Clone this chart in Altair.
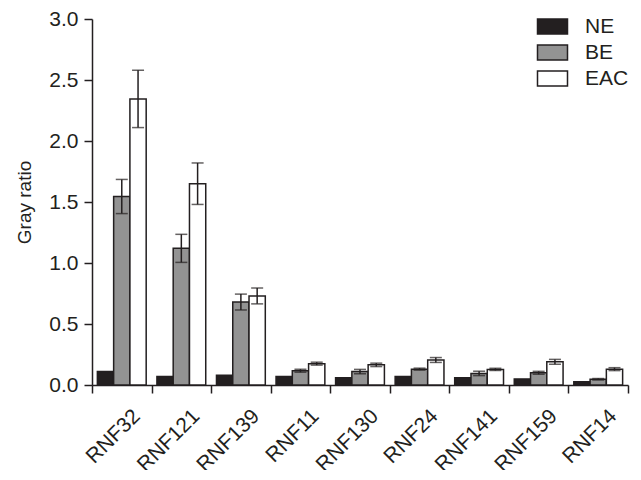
import altair as alt
import pandas as pd

genes = ["RNF32", "RNF121", "RNF139", "RNF11", "RNF130", "RNF24", "RNF141", "RNF159", "RNF14"]
groups = ["NE", "BE", "EAC"]
ne_vals = [0.11, 0.07, 0.08, 0.07, 0.06, 0.07, 0.06, 0.05, 0.027]
be_vals = [1.545, 1.12, 0.68, 0.117, 0.11, 0.13, 0.095, 0.10, 0.047]
eac_vals = [2.345, 1.65, 0.73, 0.175, 0.165, 0.205, 0.128, 0.19, 0.13]
ne_err = [0.0, 0.0, 0.0, 0.0, 0.0, 0.0, 0.0, 0.0, 0.0]
be_err = [0.14, 0.115, 0.065, 0.012, 0.018, 0.008, 0.018, 0.012, 0.006]
eac_err = [0.235, 0.17, 0.065, 0.012, 0.014, 0.02, 0.009, 0.02, 0.012]

rows = []
for g, vals, errs in [("NE", ne_vals, ne_err), ("BE", be_vals, be_err), ("EAC", eac_vals, eac_err)]:
    for gene, v, e in zip(genes, vals, errs):
        rows.append({"gene": gene, "group": g, "value": v, "lo": v - e, "hi": v + e, "err": e})
df = pd.DataFrame(rows)

FONT = "Liberation Sans"
INK = "#231f20"

x_enc = alt.X("gene:N", sort=genes, title=None,
              scale=alt.Scale(paddingInner=0, paddingOuter=0),
              axis=alt.Axis(labelAngle=-45, labelFontSize=21, labelFont=FONT, labelColor=INK,
                            tickBand="extent", tickSize=8, tickWidth=1.5, tickColor=INK,
                            domainColor=INK, domainWidth=1.5, labelPadding=12, labelOffset=7,
                            labelAlign="right", labelBaseline="top", labelOverlap=False,
                            labelBound=False))
xo_enc = alt.XOffset("group:N", sort=groups,
                     scale=alt.Scale(paddingInner=0, paddingOuter=0.33))

bars = alt.Chart(df).mark_bar(stroke=INK, strokeWidth=1.5).encode(
    x=x_enc,
    xOffset=xo_enc,
    y=alt.Y("value:Q", title="Gray ratio",
            scale=alt.Scale(domain=[0, 3]),
            axis=alt.Axis(values=[0, 0.5, 1.0, 1.5, 2.0, 2.5, 3.0], format=".1f",
                          labelFontSize=21, labelFont=FONT, labelColor=INK,
                          titleFontSize=19, titleFont=FONT, titleFontWeight="normal", titleColor=INK,
                          tickSize=8, tickWidth=1.5, tickColor=INK, domainColor=INK, domainWidth=1.5,
                          labelPadding=6, titlePadding=14, grid=False)),
    fill=alt.Fill("group:N", sort=groups,
                  scale=alt.Scale(domain=groups, range=[INK, "#939393", "#ffffff"]),
                  legend=alt.Legend(title=None, orient="none", legendX=450, legendY=-3,
                                    symbolType="M-2,-1H2V1H-2Z", symbolSize=225,
                                    symbolStrokeColor=INK, symbolStrokeWidth=1.5,
                                    symbolFillColor=INK,
                                    labelFontSize=21, labelFont=FONT, labelColor=INK,
                                    labelOffset=22, rowPadding=4, padding=0)),
)

err_df = df[df["err"] > 0]
rules = alt.Chart(err_df).mark_rule(color=INK, strokeWidth=1.5).encode(
    x=alt.X("gene:N", sort=genes), xOffset=alt.XOffset("group:N", sort=groups),
    y="lo:Q", y2="hi:Q")
caps_hi = alt.Chart(err_df).mark_tick(color=INK, thickness=1.5, size=12, orient="horizontal").encode(
    x=alt.X("gene:N", sort=genes), xOffset=alt.XOffset("group:N", sort=groups), y="hi:Q")
caps_lo = alt.Chart(err_df).mark_tick(color=INK, thickness=1.5, size=12, orient="horizontal").encode(
    x=alt.X("gene:N", sort=genes), xOffset=alt.XOffset("group:N", sort=groups), y="lo:Q")

chart = alt.layer(bars, rules, caps_hi, caps_lo).properties(
    width=536, height=366,
    autosize=alt.AutoSizeParams(type="none"),
    padding={"left": 84, "top": 11, "right": 5, "bottom": 85},
).configure_view(stroke=None)

chart.save("out.html", embed_options={"renderer": "svg", "actions": False})
